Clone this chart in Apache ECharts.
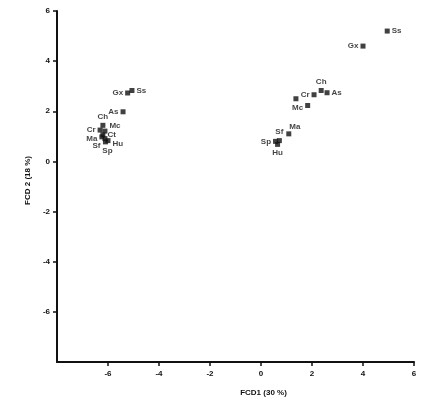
<!DOCTYPE html>
<html>
<head>
<meta charset="utf-8">
<script src="https://cdn.jsdelivr.net/npm/echarts@6/dist/echarts.min.js"></script>
<style>
  html, body { margin: 0; padding: 0; background: #fff; }
  #chart { width: 431px; height: 405px; }
</style>
</head>
<body>
<div id="chart"></div>
<script>
// sample codes, same order in both groups
const pointNames = ['Gx', 'Ss', 'As', 'Ch', 'Cr', 'Mc', 'Ct', 'Ma', 'Sf', 'Hu', 'Sp']
// left group (FCD1 < 0)
const groupAX = [-5.23, -5.06, -5.41, -6.2, -6.31, -6.12, -6.2, -6.24, -6.12, -6.0, -6.1]
const groupAY = [2.73, 2.83, 1.98, 1.44, 1.25, 1.21, 1.06, 0.98, 0.91, 0.83, 0.78]
// right group (FCD1 > 0)
const groupBX = [4.0, 4.95, 2.59, 2.36, 2.08, 1.83, 1.37, 1.09, 0.72, 0.65, 0.57]
const groupBY = [4.6, 5.2, 2.74, 2.83, 2.66, 2.23, 2.5, 1.1, 0.83, 0.68, 0.8]
const xTicks = [-6, -4, -2, 0, 2, 4, 6]
const yTicks = [-6, -4, -2, 0, 2, 4, 6]

// where each label sits next to its square
const labelsA = {
  Gx: ['left'], Ss: ['right'], As: ['left'], Ch: ['top'], Cr: ['left'],
  Mc: ['right', [0, -5]], Ct: ['right'], Ma: ['left', [0, 2]],
  Sf: ['left', [0, 7]], Hu: ['right', [0, 3]], Sp: ['bottom', [2, 0]]
}
const labelsB = {
  Gx: ['left'], Ss: ['right'], As: ['right'], Ch: ['top'], Cr: ['left'],
  Mc: ['left', [0, 2]], Ct: null, Ma: ['top', [6, 1]],
  Sf: ['top'], Hu: ['bottom'], Sp: ['left']
}

const ink = '#111'
const font = 'Liberation Sans, Arial, sans-serif'

function buildData(xs, ys, spots) {
  return pointNames.map((name, i) => {
    const spot = spots[name]
    return {
      name: name,
      value: [xs[i], ys[i]],
      label: spot
        ? { show: true, position: spot[0], offset: spot[1] || [0, 0] }
        : { show: false }
    }
  })
}

function axisBase(ticks) {
  return {
    type: 'value',
    min: -8,
    max: 6,
    interval: 2,
    splitLine: { show: false },
    axisLine: { show: true, onZero: false, lineStyle: { color: ink, width: 2 } },
    axisTick: { show: true, length: 4, customValues: ticks, lineStyle: { color: ink, width: 1.5 } },
    axisLabel: {
      customValues: ticks,
      color: ink,
      fontFamily: font,
      fontWeight: 'bold',
      fontSize: 8
    },
    nameLocation: 'middle',
    nameTextStyle: { color: ink, fontFamily: font, fontWeight: 'bold', fontSize: 8 }
  }
}

const chart = echarts.init(document.getElementById('chart'))

const xAxis = axisBase(xTicks)
xAxis.name = 'FCD1 (30 %)'
xAxis.nameGap = 27
xAxis.nameTextStyle.padding = [0, 0, 0, 56]
xAxis.axisLabel.margin = 8

const yAxis = axisBase(yTicks)
yAxis.name = 'FCD 2 (18 %)'
yAxis.nameGap = 25
yAxis.nameTextStyle.padding = [0, 0, 0, 12]
yAxis.axisLabel.margin = 7

const labelStyle = {
  color: ink,
  fontFamily: font,
  fontWeight: 'bold',
  fontSize: 8,
  distance: 2,
  formatter: '{b}'
}

const option = {
  animation: false,
  backgroundColor: '#fff',
  grid: { left: 57, right: 17, top: 11, bottom: 43 },
  xAxis: xAxis,
  yAxis: yAxis,
  series: [
    {
      type: 'scatter',
      symbol: 'rect',
      symbolSize: 5,
      itemStyle: { color: ink },
      label: labelStyle,
      data: buildData(groupAX, groupAY, labelsA)
    },
    {
      type: 'scatter',
      symbol: 'rect',
      symbolSize: 5,
      itemStyle: { color: ink },
      label: labelStyle,
      data: buildData(groupBX, groupBY, labelsB)
    }
  ]
}

chart.setOption(option)
</script>
</body>
</html>
